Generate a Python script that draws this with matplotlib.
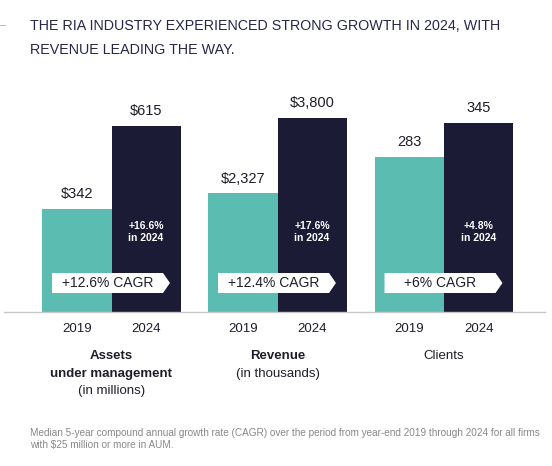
import matplotlib
matplotlib.use("Agg")
import matplotlib.pyplot as plt
from matplotlib.patches import Polygon
from matplotlib.lines import Line2D
import matplotlib.transforms as mtransforms

plt.rcParams['font.family'] = ['Liberation Sans', 'DejaVu Sans']

# data
years = ["2019", "2024"]
metric_lines = [["Assets", "under management", "(in millions)"],
                ["Revenue", "(in thousands)"],
                ["Clients"]]
bold_lines = [2, 1, 0]   # how many leading lines are bold
values_2019 = [342, 2327, 283]
values_2024 = [615, 3800, 345]
value_labels_2019 = ["$342", "$2,327", "283"]
value_labels_2024 = ["$615", "$3,800", "345"]
growth_2024 = ["+16.6%\nin 2024", "+17.6%\nin 2024", "+4.8%\nin 2024"]
cagr_labels = ["+12.6% CAGR", "+12.4% CAGR", "+6% CAGR"]
# each panel has its own y scale
ylim_tops = [701, 4152, 387]

title_lines = ["THE RIA INDUSTRY EXPERIENCED STRONG GROWTH IN 2024, WITH",
               "REVENUE LEADING THE WAY."]
note_lines = ["Median 5-year compound annual growth rate (CAGR) over the period from year-end 2019 through 2024 for all firms",
              "with $25 million or more in AUM."]

TEAL = "#5bbcb1"
NAVY = "#1c1b35"
TITLE_C = "#26264a"
TEXT_C = "#1e1e2a"

W, H = 552, 466
fig = plt.figure(figsize=(W / 100, H / 100), dpi=100)

def fx(px):
    return px / W

def fy(py):
    return 1 - py / H

centers = [111.5, 277.5, 444]
base_y = 312
top_y = 100

for i in range(3):
    ax = fig.add_axes([fx(centers[i] - 83), fy(base_y), fx(166), (base_y - top_y) / H])
    ax.set_xlim(-1.2, 1.2)
    ax.set_ylim(0, ylim_tops[i])
    ax.bar([-0.5, 0.5], [values_2019[i], values_2024[i]], width=1.0,
           color=[TEAL, NAVY], linewidth=0)
    for x, v, lab in zip([-0.5, 0.5], [values_2019[i], values_2024[i]],
                         [value_labels_2019[i], value_labels_2024[i]]):
        ax.annotate(lab, (x, v), xytext=(0, 10.5), textcoords="offset points",
                    ha="center", va="center", fontsize=10.5, color=TEXT_C)
    trans = mtransforms.blended_transform_factory(ax.transData, ax.transAxes)
    ax.text(0.5, 80 / 212, growth_2024[i], transform=trans, ha="center", va="center",
            fontsize=7.5, color="white", linespacing=1.25, fontweight="bold")
    # CAGR arrow badge
    x0, x1, xt = -0.86, 0.845, 0.745
    y0, y1 = 19 / 212, 39 / 212
    arrow = Polygon([(x0, y0), (xt, y0), (x1, (y0 + y1) / 2), (xt, y1), (x0, y1)],
                    closed=True, facecolor="white", edgecolor="none", transform=trans)
    ax.add_patch(arrow)
    ax.text((x0 + xt) / 2, (y0 + y1) / 2, cagr_labels[i], transform=trans,
            ha="center", va="center", fontsize=10, color=TEXT_C)
    ax.set_xticks([-0.5, 0.5])
    ax.set_xticklabels(years, fontsize=9.5, color=TEXT_C)
    ax.tick_params(axis="x", length=0, pad=8)
    ax.set_yticks([])
    for s in ax.spines.values():
        s.set_visible(False)
    # category labels
    for k, line in enumerate(metric_lines[i]):
        fig.text(fx(centers[i]), fy(356 + 17.5 * k), line, ha="center", va="center",
                 fontsize=9.5, color=TEXT_C,
                 fontweight="bold" if k < bold_lines[i] else "normal")

# baseline
fig.add_artist(Line2D([fx(4), fx(545)], [fy(base_y), fy(base_y)], color="#c8c8c8", lw=1))
fig.add_artist(Line2D([fx(0), fx(5)], [fy(25), fy(25)], color="#bbbbbb", lw=0.8))

for k, line in enumerate(title_lines):
    fig.text(fx(30), fy(26.5 + 23 * k), line, ha="left", va="center",
             fontsize=10.3, color=TITLE_C)
for k, line in enumerate(note_lines):
    fig.text(fx(30), fy(433.5 + 11.5 * k), line, ha="left", va="center",
             fontsize=7.2, color="#888888")

fig.savefig("out.png", dpi=100)
